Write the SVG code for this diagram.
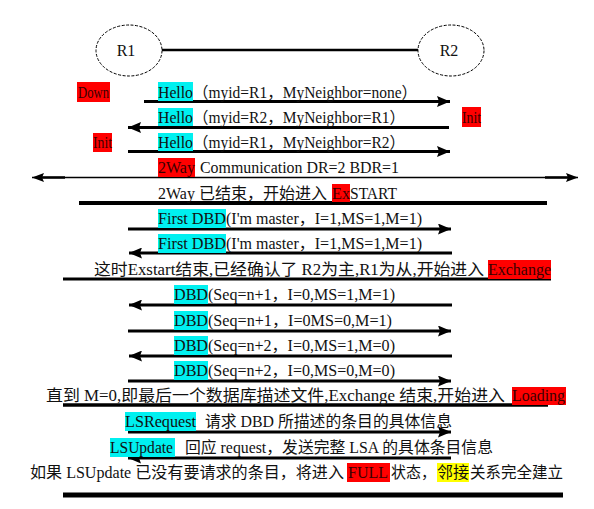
<svg xmlns="http://www.w3.org/2000/svg" width="594" height="509" viewBox="0 0 594 509">
<style>
text{font-family:"Liberation Serif","Noto Sans CJK SC",serif;font-size:16px;fill:#111}
.red{fill:#ff0000}
.cy{fill:#00f0f0}
.yl{fill:#ffff00}
.rt{fill:#3a0000}
.node{fill:#fff;stroke:#000;stroke-width:1;stroke-dasharray:3 1.5}
.arr{stroke:#000;stroke-width:2.8;fill:none}
.thick{stroke:#000;fill:none}
.thin{stroke:#000;stroke-width:1.3;fill:none}
</style>
<defs>
<marker id="ah" markerUnits="userSpaceOnUse" markerWidth="13" markerHeight="11" refX="13" refY="5.5" orient="auto">
<path d="M0,0 L13,5.5 L0,11 L2,5.5 z" fill="#000"/>
</marker>
<marker id="ahs" markerUnits="userSpaceOnUse" markerWidth="12" markerHeight="9" refX="12" refY="4.5" orient="auto-start-reverse">
<path d="M0,0 L12,4.5 L0,9 L2,4.5 z" fill="#000"/>
</marker>
</defs>
<rect width="594" height="509" fill="#fff"/>

<g id="connectors">
<line x1="162" y1="50" x2="418" y2="50" stroke="#000" stroke-width="2.5"/>
<line class="arr" x1="144" y1="101.5" x2="450" y2="101.5" marker-end="url(#ah)"/>
<line class="arr" x1="449" y1="127.5" x2="128" y2="127.5" marker-end="url(#ah)"/>
<line class="arr" x1="128" y1="151.5" x2="450" y2="151.5" marker-end="url(#ah)"/>
<line class="thin" x1="32" y1="177.5" x2="578" y2="177.5" marker-start="url(#ahs)" marker-end="url(#ahs)"/>
<line stroke="#000" stroke-width="2.5" x1="36" y1="177.5" x2="65" y2="177.5"/>
<line stroke="#000" stroke-width="2.5" x1="545" y1="177.5" x2="574" y2="177.5"/>
<line class="thick" stroke-width="4" x1="79" y1="203" x2="547" y2="203"/>
<line class="arr" x1="128" y1="229" x2="451" y2="229" marker-end="url(#ah)"/>
<line class="arr" x1="452" y1="253" x2="129" y2="253" marker-end="url(#ah)"/>
<line class="thick" stroke-width="3.2" x1="63" y1="279" x2="551" y2="279"/>
<line class="arr" x1="452" y1="305" x2="129" y2="305" marker-end="url(#ah)"/>
<line class="arr" x1="128" y1="331" x2="451" y2="331" marker-end="url(#ah)"/>
<line class="arr" x1="452" y1="356" x2="129" y2="356" marker-end="url(#ah)"/>
<line class="arr" x1="128" y1="381" x2="451" y2="381" marker-end="url(#ah)"/>
<line class="thick" stroke-width="3.5" x1="63" y1="405" x2="548" y2="405"/>
<line class="arr" x1="128" y1="432" x2="451" y2="432" marker-end="url(#ah)"/>
<line class="arr" x1="451" y1="458" x2="128" y2="458" marker-end="url(#ah)"/>
<line class="thick" stroke-width="5" x1="63" y1="495" x2="563" y2="495"/>
</g>

<g id="R1">
<ellipse class="node" cx="129" cy="50.5" rx="33" ry="25.5"/>
<text x="126" y="56" text-anchor="middle" font-size="17">R1</text>
</g>
<g id="R2">
<ellipse class="node" cx="451" cy="50.5" rx="33" ry="25.5"/>
<text x="449" y="56" text-anchor="middle" font-size="17">R2</text>
</g>

<g id="highlights">
<rect class="red" x="77" y="82" width="33" height="20"/>
<rect class="cy" x="158" y="82" width="35" height="19"/>
<rect class="cy" x="158" y="108" width="35" height="18"/>
<rect class="red" x="462" y="107" width="19" height="20"/>
<rect class="red" x="93" y="133" width="19" height="19"/>
<rect class="cy" x="158" y="133" width="35" height="18"/>
<rect class="red" x="158" y="158" width="37" height="19"/>
<rect class="red" x="332" y="184" width="18" height="18"/>
<rect class="cy" x="158" y="209" width="68" height="19"/>
<rect class="cy" x="158" y="234" width="68" height="19"/>
<rect class="red" x="488" y="260" width="63" height="19"/>
<rect class="cy" x="174" y="285" width="34" height="19"/>
<rect class="cy" x="174" y="311" width="34" height="19"/>
<rect class="cy" x="174" y="336" width="34" height="19"/>
<rect class="cy" x="174" y="361" width="34" height="19"/>
<rect class="red" x="512" y="387" width="54" height="18"/>
<rect class="cy" x="125" y="412" width="71" height="19"/>
<rect class="cy" x="110" y="438" width="65" height="19"/>
<rect class="red" x="347" y="463" width="43" height="19"/>
<rect class="yl" x="437" y="463" width="32" height="19"/>
</g>

<g id="labels">
<text class="rt" x="78" y="98" textLength="31" lengthAdjust="spacingAndGlyphs">Down</text>
<text x="158" y="98" textLength="35" lengthAdjust="spacingAndGlyphs">Hello</text>
<text x="193" y="98" textLength="224" lengthAdjust="spacingAndGlyphs">（myid=R1，MyNeighbor=none）</text>

<text x="158" y="123" textLength="35" lengthAdjust="spacingAndGlyphs">Hello</text>
<text x="193" y="123" textLength="212" lengthAdjust="spacingAndGlyphs">（myid=R2，MyNeighbor=R1）</text>
<text class="rt" x="462" y="123" textLength="19" lengthAdjust="spacingAndGlyphs">Init</text>

<text class="rt" x="93" y="148" textLength="19" lengthAdjust="spacingAndGlyphs">Init</text>
<text x="158" y="148" textLength="35" lengthAdjust="spacingAndGlyphs">Hello</text>
<text x="193" y="148" textLength="212" lengthAdjust="spacingAndGlyphs">（myid=R1，MyNeighbor=R2）</text>

<text class="rt" x="158" y="173" textLength="37" lengthAdjust="spacingAndGlyphs">2Way</text>
<text x="200" y="173" textLength="199" lengthAdjust="spacingAndGlyphs">Communication DR=2 BDR=1</text>

<text x="158" y="199" textLength="169" lengthAdjust="spacingAndGlyphs">2Way 已结束，开始进入</text>
<text class="rt" x="332" y="199" textLength="18" lengthAdjust="spacingAndGlyphs">Ex</text>
<text x="350" y="199" textLength="47" lengthAdjust="spacingAndGlyphs">START</text>

<text x="158" y="224" textLength="68" lengthAdjust="spacingAndGlyphs">First DBD</text>
<text x="226" y="224" textLength="196" lengthAdjust="spacingAndGlyphs">(I'm master，I=1,MS=1,M=1)</text>

<text x="158" y="249" textLength="68" lengthAdjust="spacingAndGlyphs">First DBD</text>
<text x="226" y="249" textLength="196" lengthAdjust="spacingAndGlyphs">(I'm master，I=1,MS=1,M=1)</text>

<text x="94" y="275" textLength="390" lengthAdjust="spacingAndGlyphs">这时Exstart结束,已经确认了 R2为主,R1为从,开始进入</text>
<text class="rt" x="488" y="275" textLength="63" lengthAdjust="spacingAndGlyphs">Exchange</text>

<text x="174" y="300" textLength="34" lengthAdjust="spacingAndGlyphs">DBD</text>
<text x="208" y="300" textLength="187" lengthAdjust="spacingAndGlyphs">(Seq=n+1，I=0,MS=1,M=1)</text>
<text x="174" y="326" textLength="34" lengthAdjust="spacingAndGlyphs">DBD</text>
<text x="208" y="326" textLength="184" lengthAdjust="spacingAndGlyphs">(Seq=n+1，I=0MS=0,M=1)</text>
<text x="174" y="351" textLength="34" lengthAdjust="spacingAndGlyphs">DBD</text>
<text x="208" y="351" textLength="187" lengthAdjust="spacingAndGlyphs">(Seq=n+2，I=0,MS=1,M=0)</text>
<text x="174" y="376" textLength="34" lengthAdjust="spacingAndGlyphs">DBD</text>
<text x="208" y="376" textLength="187" lengthAdjust="spacingAndGlyphs">(Seq=n+2，I=0,MS=0,M=0)</text>

<text x="46" y="401" textLength="459" lengthAdjust="spacingAndGlyphs">直到 M=0,即最后一个数据库描述文件,Exchange 结束,开始进入</text>
<text class="rt" x="512" y="401" textLength="53" lengthAdjust="spacingAndGlyphs">Loading</text>

<text x="125" y="427" textLength="71" lengthAdjust="spacingAndGlyphs">LSRequest</text>
<text x="205" y="427" textLength="247" lengthAdjust="spacingAndGlyphs">请求 DBD 所描述的条目的具体信息</text>

<text x="110" y="453" textLength="63" lengthAdjust="spacingAndGlyphs">LSUpdate</text>
<text x="185" y="453" textLength="308" lengthAdjust="spacingAndGlyphs">回应 request，发送完整 LSA 的具体条目信息</text>

<text x="30" y="478" textLength="314" lengthAdjust="spacingAndGlyphs">如果 LSUpdate 已没有要请求的条目，将进入</text>
<text class="rt" x="348" y="478" textLength="40" lengthAdjust="spacingAndGlyphs">FULL</text>
<text x="391" y="478" textLength="45" lengthAdjust="spacingAndGlyphs">状态，</text>
<text x="437" y="478" textLength="32" lengthAdjust="spacingAndGlyphs">邻接</text>
<text x="470" y="478" textLength="93" lengthAdjust="spacingAndGlyphs">关系完全建立</text>
</g>
</svg>
